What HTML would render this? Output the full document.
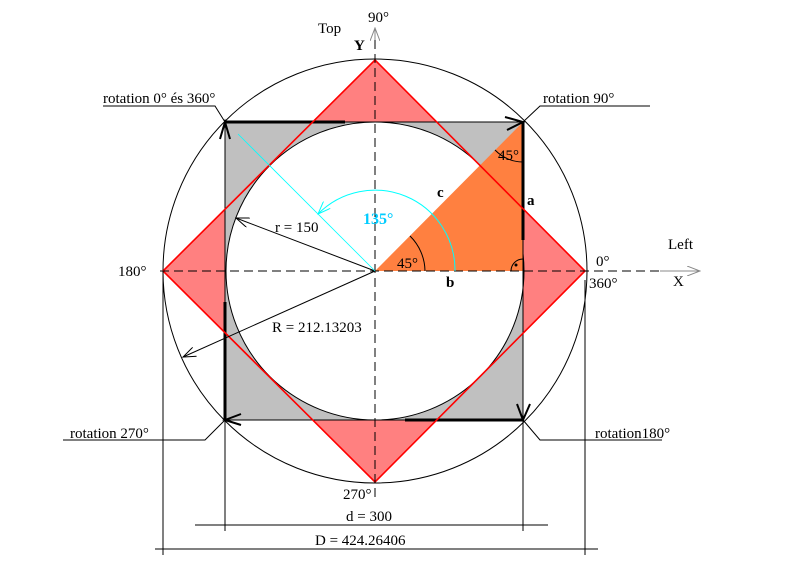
<!DOCTYPE html>
<html><head><meta charset="utf-8"><style>body{margin:0;background:#fff}svg{display:block}text{font-family:"Liberation Serif",serif;font-size:15px;fill:#000}</style></head><body>
<svg width="790" height="580" viewBox="0 0 790 580" xmlns="http://www.w3.org/2000/svg">
<defs>
<marker id="oa" markerWidth="14" markerHeight="10" refX="13" refY="5" orient="auto" markerUnits="userSpaceOnUse"><path d="M0,0 L13,5 L0,10" fill="none" stroke="#000" stroke-width="1"/></marker>
<marker id="ca" markerWidth="14" markerHeight="10" refX="13" refY="5" orient="auto" markerUnits="userSpaceOnUse"><path d="M0,0 L13,5 L0,10" fill="none" stroke="#0ff" stroke-width="1"/></marker>
<marker id="ga" markerWidth="14" markerHeight="10" refX="13" refY="5" orient="auto" markerUnits="userSpaceOnUse"><path d="M0,0 L13,5 L0,10" fill="none" stroke="#888" stroke-width="1"/></marker>
</defs>
<polygon points="375,60 585,271 375,482 163,271" fill="#ff8080"/>
<rect x="225" y="122" width="298" height="298" fill="#c0c0c0"/>
<circle cx="375" cy="271" r="149" fill="#fff" stroke="#000" stroke-width="1"/>
<polygon points="375,271 523,271 523,122" fill="#ff8040"/>
<circle cx="375" cy="271" r="212" fill="none" stroke="#000" stroke-width="1"/>
<rect x="225" y="122" width="298" height="298" fill="none" stroke="#000" stroke-width="1"/>
<g stroke="#000" stroke-width="3">
<line x1="225" y1="122" x2="345" y2="122"/><line x1="523" y1="122" x2="523" y2="240"/>
<line x1="523" y1="420" x2="405" y2="420"/><line x1="225" y1="420" x2="225" y2="302"/>
</g>
<g stroke="#000" stroke-width="2" fill="none">
<path d="M505,117 L523,122 L507,130"/><path d="M517,404 L523,420 L530,404"/>
<path d="M241,414 L225,420 L241,425"/><path d="M220,139 L225,122 L230,139"/>
</g>
<polygon points="375,60 585,271 375,482 163,271" fill="none" stroke="#f00" stroke-width="1.6"/>
<g stroke="#000" stroke-dasharray="9,5" stroke-width="1">
<line x1="375" y1="40" x2="375" y2="500"/><line x1="160" y1="271" x2="660" y2="271"/>
</g>
<line x1="660" y1="271" x2="700" y2="271" stroke="#888" marker-end="url(#ga)"/>
<line x1="375" y1="40" x2="375" y2="28" stroke="#888" marker-end="url(#ga)"/>
<line x1="375" y1="271" x2="236" y2="218" stroke="#000" marker-end="url(#oa)"/>
<line x1="375" y1="271" x2="183" y2="357" stroke="#000" marker-end="url(#oa)"/>
<line x1="375" y1="271" x2="238" y2="134" stroke="#0ff" stroke-width="0.8"/>
<path d="M455,271 A80,80 0 0 0 318,214" fill="none" stroke="#0ff" marker-end="url(#ca)"/>
<path d="M425,271 A50,50 0 0 0 410,236" fill="none" stroke="#000"/>
<path d="M495,150 A40,40 0 0 0 523,162" fill="none" stroke="#000"/>
<path d="M511,271 A12,12 0 0 1 523,259" fill="none" stroke="#000"/>
<circle cx="516" cy="265" r="1.5" fill="#000"/>
<g stroke="#000" stroke-width="1" fill="none">
<polyline points="103,106 215,106 225,122"/><polyline points="650,106 540,106 523,122"/>
<polyline points="63,440 205,440 225,420"/><polyline points="662,440 540,440 523,420"/>
<line x1="225" y1="420" x2="225" y2="531"/><line x1="523" y1="420" x2="523" y2="531"/>
<line x1="163" y1="271" x2="163" y2="555"/><line x1="585" y1="280" x2="585" y2="555"/>
<line x1="195" y1="525" x2="548" y2="525"/><line x1="155" y1="549" x2="598" y2="549"/>
</g>
<text x="318" y="33">Top</text><text x="368" y="22">90°</text>
<text x="354" y="50" font-weight="bold">Y</text>
<text x="103" y="103">rotation 0° és 360°</text><text x="543" y="103">rotation 90°</text>
<text x="118" y="276">180°</text><text x="596" y="266">0°</text><text x="589" y="288">360°</text>
<text x="668" y="249">Left</text><text x="673" y="286">X</text>
<text x="70" y="438">rotation  270°</text><text x="595" y="438">rotation180°</text>
<text x="343" y="499">270°</text>
<text x="346" y="521">d = 300</text><text x="315" y="545">D = 424.26406</text>
<text x="275" y="232">r = 150</text><text x="272" y="332">R = 212.13203</text>
<text x="363" y="224" style="fill:#0cf;font-weight:bold;font-size:16px">135°</text>
<text x="397" y="268">45°</text><text x="498" y="160">45°</text>
<text x="437" y="197" font-weight="bold" font-size="12">c</text>
<text x="527" y="205" font-weight="bold" font-size="12">a</text>
<text x="446" y="287" font-weight="bold" font-size="12">b</text>
</svg></body></html>
